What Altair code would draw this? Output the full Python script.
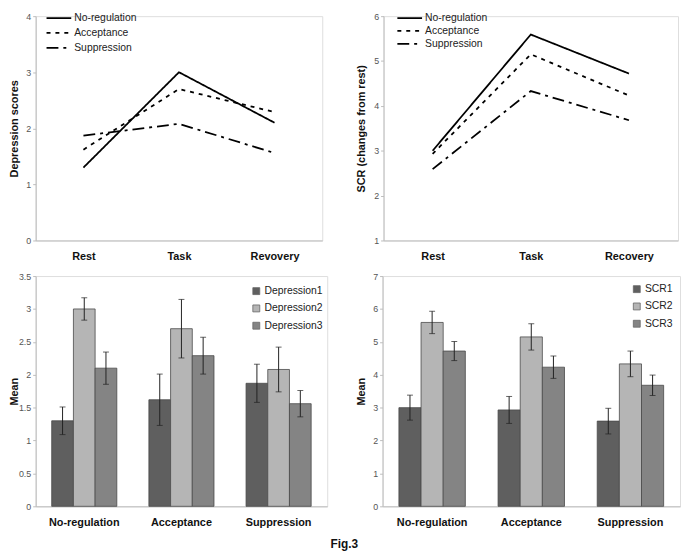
import altair as alt
import pandas as pd

FONT = "Liberation Sans"

# ---------------- data ----------------
conditions = ["No-regulation", "Acceptance", "Suppression"]
phases_dep = ["Rest", "Task", "Revovery"]
phases_scr = ["Rest", "Task", "Recovery"]

# depression scores per condition (Rest, Task, Recovery)
dep_noreg = [1.30, 3.00, 2.10]
dep_acc = [1.62, 2.70, 2.29]
dep_sup = [1.87, 2.08, 1.56]

# SCR per condition (Rest, Task, Recovery)
scr_noreg = [3.00, 5.59, 4.72]
scr_acc = [2.93, 5.15, 4.23]
scr_sup = [2.59, 4.33, 3.68]

# error bars (half-width) per condition for series 1,2,3
dep_err_noreg = [0.21, 0.17, 0.245]
dep_err_acc = [0.39, 0.445, 0.28]
dep_err_sup = [0.29, 0.34, 0.20]

scr_err_noreg = [0.38, 0.34, 0.29]
scr_err_acc = [0.41, 0.40, 0.34]
scr_err_sup = [0.39, 0.39, 0.31]

dep_series = ["Depression1", "Depression2", "Depression3"]
scr_series = ["SCR1", "SCR2", "SCR3"]
bar_colors = ["#5f5f5f", "#b5b5b5", "#848484"]
dashes = [[1, 0], [4, 5], [12, 5, 3, 5]]


def line_df(phases, vals):
    rows = []
    for c, v in zip(conditions, vals):
        for i, (p, y) in enumerate(zip(phases, v)):
            rows.append({"phase": p, "idx": i, "condition": c, "value": y})
    return pd.DataFrame(rows)


def bar_df(series, vals, errs):
    rows = []
    for c, v, e in zip(conditions, vals, errs):
        for s, y, err in zip(series, v, e):
            rows.append({"condition": c, "series": s, "value": y,
                         "lo": y - err, "hi": y + err})
    return pd.DataFrame(rows)


def y_axis(title, values, title_x, height):
    return alt.Axis(
        title=title, values=values, grid=False, format="~g", labelOverlap=False,
        tickSize=3, tickColor="#bdbdbd", domainColor="#bdbdbd",
        labelFont=FONT, labelFontSize=9, labelColor="#555555", labelPadding=2,
        titleFont=FONT, titleFontSize=11, titleFontWeight="bold", titleColor="#111111",
        titleX=title_x, titleY=height / 2, titleAngle=270,
        titleAlign="center", titleBaseline="middle",
    )


def x_axis():
    return alt.Axis(
        title=None, labelAngle=0, ticks=False, labelPadding=10,
        domainColor="#bdbdbd", labelFont=FONT, labelFontSize=11,
        labelFontWeight="bold", labelColor="#111111",
    )


def line_panel(phases, vals, ytitle, ydomain, yticks, width, height,
               title_x, lx, ly, rowpad):
    df = line_df(phases, vals)
    return alt.Chart(df).mark_line(color="black", strokeWidth=1.8).encode(
        x=alt.X("phase:N", sort=phases,
                scale=alt.Scale(type="point", padding=0.5), axis=x_axis()),
        y=alt.Y("value:Q", scale=alt.Scale(domain=ydomain, nice=False, zero=False),
                axis=y_axis(ytitle, yticks, title_x, height)),
        strokeDash=alt.StrokeDash(
            "condition:N", sort=conditions,
            scale=alt.Scale(domain=conditions, range=dashes),
            legend=alt.Legend(
                title=None, orient="none", legendX=lx, legendY=ly,
                symbolType="M-2.5,0H2.5", symbolSize=100,
                symbolStrokeWidth=1.8, symbolStrokeColor="black",
                symbolFillColor="transparent",
                labelFont=FONT, labelFontSize=10.5, labelColor="#222222",
                labelOffset=9.5, rowPadding=rowpad, padding=0,
            ),
        ),
        order=alt.Order("idx:Q"),
    ).properties(width=width, height=height)


def bar_panel(series, vals, errs, ydomain, yticks, width, height,
              title_x, lx, ly, rowpad):
    df = bar_df(series, vals, errs)
    yscale = alt.Scale(domain=ydomain, nice=False)
    yax = y_axis("Mean", yticks, title_x, height)
    base = alt.Chart(df).encode(
        x=alt.X("condition:N", sort=conditions,
                scale=alt.Scale(paddingInner=0.33, paddingOuter=0.165),
                axis=x_axis()),
        xOffset=alt.XOffset("series:N", sort=series,
                            scale=alt.Scale(paddingInner=0, paddingOuter=0)),
    )
    bars = base.mark_bar(stroke="#4a4a4a", strokeWidth=0.8).encode(
        y=alt.Y("value:Q", scale=yscale, axis=yax),
        color=alt.Color(
            "series:N", sort=series,
            scale=alt.Scale(domain=series, range=bar_colors),
            legend=alt.Legend(
                title=None, orient="none", legendX=lx, legendY=ly,
                symbolType="square", symbolSize=49,
                symbolStrokeColor="#666666", symbolStrokeWidth=0.8,
                symbolOpacity=1,
                labelFont=FONT, labelFontSize=10.5, labelColor="#222222",
                labelOffset=3, rowPadding=rowpad, padding=0,
            ),
        ),
    )
    rule = base.mark_rule(color="#222222", strokeWidth=1).encode(
        y=alt.Y("lo:Q", scale=yscale, axis=yax), y2="hi:Q")
    cap_lo = base.mark_tick(color="#222222", size=6, thickness=1).encode(
        y=alt.Y("lo:Q", scale=yscale, axis=yax))
    cap_hi = base.mark_tick(color="#222222", size=6, thickness=1).encode(
        y=alt.Y("hi:Q", scale=yscale, axis=yax))
    return alt.layer(bars, rule, cap_lo, cap_hi).properties(width=width, height=height)


tl = line_panel(phases_dep, [dep_noreg, dep_acc, dep_sup], "Depression scores",
                [0, 4], [0, 1, 2, 3, 4], 290, 227, -21, 17.5, -4, 3)
tr = line_panel(phases_scr, [scr_noreg, scr_acc, scr_sup], "SCR (changes from rest)",
                [1, 6], [1, 2, 3, 4, 5, 6], 298, 227, -22, 20.5, -4, 1)

# bar values: series k for condition c = value at phase k
bl = bar_panel(dep_series, [dep_noreg, dep_acc, dep_sup],
               [dep_err_noreg, dep_err_acc, dep_err_sup],
               [0, 3.5], [0, 0.5, 1, 1.5, 2, 2.5, 3, 3.5], 295, 233, -21.5, 218, 10, 6.5)
br = bar_panel(scr_series, [scr_noreg, scr_acc, scr_sup],
               [scr_err_noreg, scr_err_acc, scr_err_sup],
               [0, 7], [0, 1, 2, 3, 4, 5, 6, 7], 301, 233, -21, 252, 8, 6.5)

indep = dict(x="independent", y="independent", color="independent",
             strokeDash="independent", xOffset="independent")

row1 = alt.hconcat(tl, tr, spacing=62, bounds="flush").resolve_scale(**indep)
row2 = alt.hconcat(bl, br, spacing=56, bounds="flush").resolve_scale(**indep)

chart = alt.vconcat(row1, row2, spacing=9).resolve_scale(**indep).properties(
    padding=0,
    title=alt.TitleParams("Fig.3", orient="bottom", anchor="middle", font=FONT,
                          fontSize=12, fontWeight="bold", color="#111111", offset=12),
).configure_view(stroke="transparent", strokeWidth=0).configure(background="white")

chart.save("out.html", embed_options={"renderer": "svg", "actions": False})
